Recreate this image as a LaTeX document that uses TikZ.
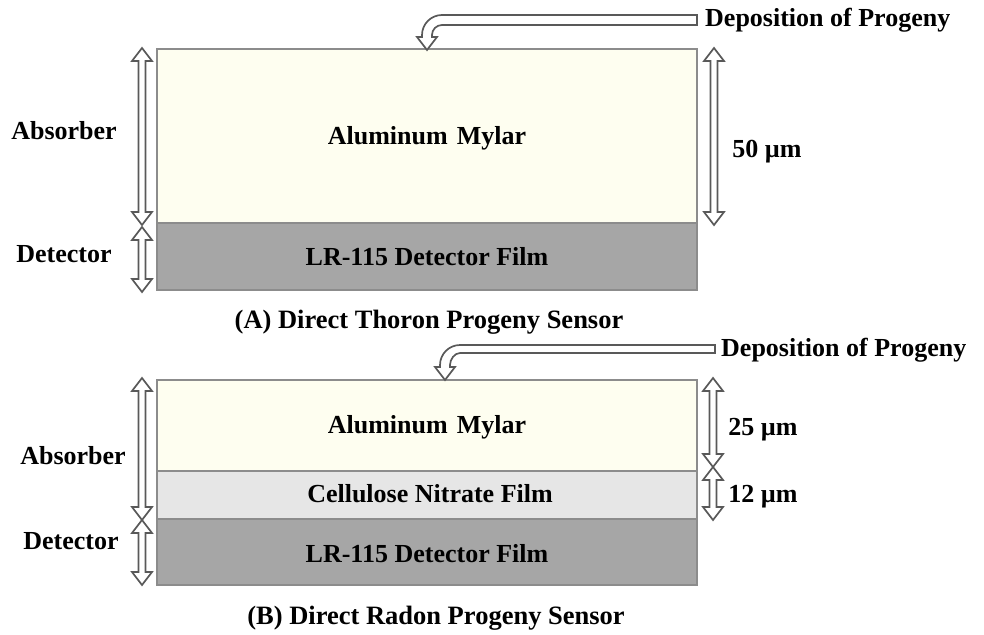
\documentclass[tikz,border=0pt]{standalone}
\usepackage{fontspec}
\setmainfont{Liberation Serif}
\definecolor{mylar}{HTML}{FEFEF0}
\definecolor{lrgray}{HTML}{A6A6A6}
\definecolor{cngray}{HTML}{E6E6E6}
\definecolor{edgegray}{HTML}{8C8C8C}
\definecolor{arrgray}{HTML}{595959}
\newcommand\vdarrow[3]{%
  \draw[dblarr] (#1,#2) -- ({#1+10},{#2+13}) -- ({#1+3.5},{#2+13}) -- ({#1+3.5},{#3-13}) -- ({#1+10},{#3-13}) -- (#1,#3) -- ({#1-10},{#3-13}) -- ({#1-3.5},{#3-13}) -- ({#1-3.5},{#2+13}) -- ({#1-10},{#2+13}) -- cycle;}
\begin{document}
\begin{tikzpicture}[x=1pt,y=-1pt,
  layer/.style={draw=edgegray, line width=2pt},
  dblarr/.style={draw=arrgray, fill=white, line width=1.7pt, line join=miter},
  lbl/.style={font=\bfseries\fontsize{26}{30}\selectfont, inner sep=0pt},
  captxt/.style={font=\bfseries\fontsize{26.5}{30}\selectfont, inner sep=0pt},
]
\useasboundingbox (0,0) rectangle (984,634);
% ---------- Panel A ----------
\draw[layer, fill=mylar] (157,49) rectangle (697,223);
\draw[layer, fill=lrgray] (157,223) rectangle (697,290);
\node[lbl] (mylarA) at (427,138) {Aluminum\hspace{0.35em}Mylar};
\node[lbl] (lrA) at (427,257) {LR-115 Detector Film};
\node[lbl] (absA) at (64,131) {Absorber};
\node[lbl] (detA) at (64,254) {Detector};
\node[lbl] (umA) at (767,152) {50 µm};
\node[captxt] (capA) at (429,322) {(A) Direct Thoron Progeny Sensor};
\node[lbl, anchor=west] (depA) at (705,20) {Deposition of Progeny};
\vdarrow{142}{48}{225}
\vdarrow{142}{227}{292}
\vdarrow{714}{48}{225}
\draw[dblarr] (697,15) -- (442,15) .. controls (431,15) and (422,24) .. (422,35) -- (422,37) -- (417,37) -- (427,50) -- (437,37) -- (432,37) -- (432,35) .. controls (432,29.5) and (436.5,25) .. (442,25) -- (697,25) -- cycle;
% ---------- Panel B ----------
\draw[layer, fill=mylar] (157,380) rectangle (697,471);
\draw[layer, fill=cngray] (157,471) rectangle (697,519);
\draw[layer, fill=lrgray] (157,519) rectangle (697,585);
\node[lbl] (mylarB) at (427,427) {Aluminum\hspace{0.35em}Mylar};
\node[lbl] (cnB) at (430,494) {Cellulose Nitrate Film};
\node[lbl] (lrB) at (427,554) {LR-115 Detector Film};
\node[lbl] (absB) at (73,456) {Absorber};
\node[lbl] (detB) at (71,541) {Detector};
\node[lbl] (umB1) at (763,430) {25 µm};
\node[lbl] (umB2) at (763,497) {12 µm};
\node[captxt] (capB) at (436,618) {(B) Direct Radon Progeny Sensor};
\node[lbl, anchor=west] (depB) at (721,350) {Deposition of Progeny};
\vdarrow{142}{378}{520}
\vdarrow{142}{520}{585}
\vdarrow{713}{378}{467}
\vdarrow{713}{467}{520}
\draw[dblarr] (715,345) -- (460,345) .. controls (449,345) and (440,354) .. (440,365) -- (440,367) -- (435,367) -- (445,380) -- (455,367) -- (450,367) -- (450,365) .. controls (450,359.5) and (454.5,353) .. (460,353) -- (715,353) -- cycle;
\end{tikzpicture}
\end{document}
